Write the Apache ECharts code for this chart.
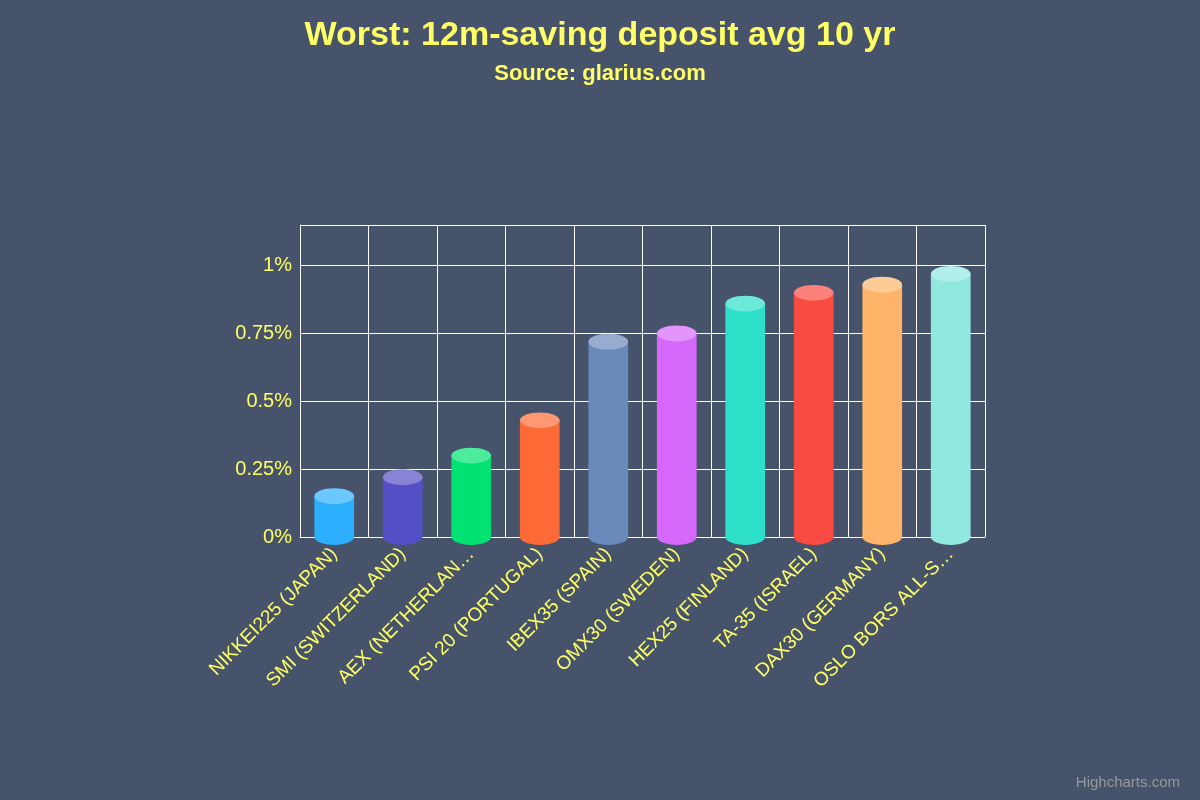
<!DOCTYPE html>
<html><head><meta charset="utf-8">
<script src="https://cdn.jsdelivr.net/npm/echarts@6/dist/echarts.min.js"></script>
<style>html,body{margin:0;background:#46536b}#c{width:1200px;height:800px}</style>
</head><body><div id="c"></div>
<script>
const categories = ["NIKKEI225 (JAPAN)","SMI (SWITZERLAND)","AEX (NETHERLAN…","PSI 20 (PORTUGAL)","IBEX35 (SPAIN)","OMX30 (SWEDEN)","HEX25 (FINLAND)","TA-35 (ISRAEL)","DAX30 (GERMANY)","OSLO BORS ALL-S…"];
const values = [0.15,0.22,0.30,0.43,0.72,0.75,0.86,0.90,0.93,0.97];
const colors = ["#2caffe","#544fc5","#00e272","#fe6a35","#6b8abc","#d568fb","#2ee0ca","#fa4b42","#feb56a","#91e8e1"];
const yTicks = [0,0.25,0.5,0.75,1];
const chart = echarts.init(document.getElementById('c'));
function lighten(hex){const n=parseInt(hex.slice(1),16);let r=n>>16,g=(n>>8)&255,b=n&255;r=Math.round(r+(255-r)*0.3);g=Math.round(g+(255-g)*0.3);b=Math.round(b+(255-b)*0.3);return `rgb(${r},${g},${b})`;}
chart.setOption({
  backgroundColor:'#46536b',
  title:{text:'Worst: 12m-saving deposit avg 10 yr',subtext:'Source: glarius.com',left:'center',top:14,
    textStyle:{color:'#ffff66',fontSize:34,fontWeight:'bold',fontFamily:'Liberation Sans'},
    subtextStyle:{color:'#ffff66',fontSize:22,fontWeight:'bold',fontFamily:'Liberation Sans'},itemGap:10},
  graphic:[{type:'text',right:20,bottom:10,style:{text:'Highcharts.com',fill:'#999',fontSize:15,fontFamily:'Liberation Sans'}}],
  grid:{left:300,right:215,top:225,bottom:263},
  xAxis:{type:'category',data:categories,axisLine:{lineStyle:{color:'#ffffff'}},axisTick:{show:false},
    splitLine:{show:true,lineStyle:{color:'#ffffff'}},
    axisLabel:{rotate:45,interval:0,color:'#ffff66',fontSize:19,fontFamily:'Liberation Sans',margin:14}},
  yAxis:{type:'value',min:0,max:1.15,interval:0.25,axisLine:{show:true,lineStyle:{color:'#ffffff'}},
    splitLine:{lineStyle:{color:'#ffffff'}},
    axisLabel:{color:'#ffff66',fontSize:20,fontFamily:'Liberation Sans',
      formatter:v=>yTicks.some(t=>Math.abs(t-v)<1e-6)?(+v.toFixed(2))+'%':''}},
  series:[{type:'custom',data:values.map((v,i)=>[i,v]),
    renderItem:(p,api)=>{
      const i=api.value(0),v=api.value(1);
      const top=api.coord([i,v]),base=api.coord([i,0]);
      const w=api.size([1,0])[0]*0.58,rx=w/2,ry=w*0.2,c=colors[i];
      return {type:'group',children:[
        {type:'ellipse',shape:{cx:base[0],cy:base[1],rx:rx,ry:ry},style:{fill:c}},
        {type:'rect',shape:{x:base[0]-rx,y:top[1],width:w,height:base[1]-top[1]},style:{fill:c}},
        {type:'ellipse',shape:{cx:top[0],cy:top[1],rx:rx,ry:ry},style:{fill:lighten(c)}}
      ]};
    }}]
});
</script></body></html>
